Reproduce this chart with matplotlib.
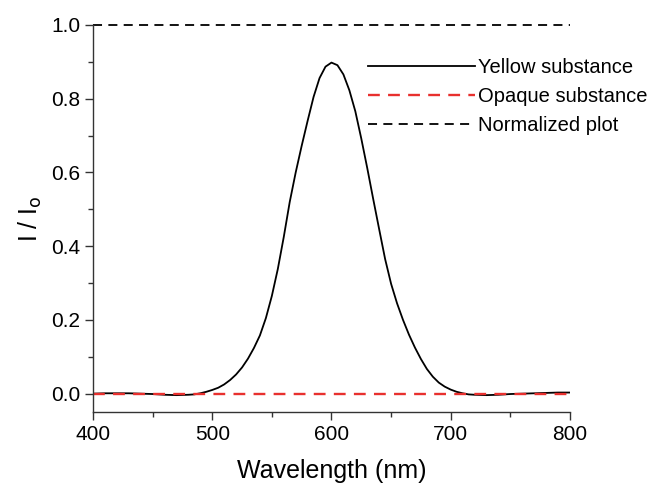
import numpy as np
import matplotlib
matplotlib.use('Agg')
import matplotlib.pyplot as plt
from matplotlib.ticker import MultipleLocator

plt.rcParams['font.family'] = ['Liberation Sans', 'DejaVu Sans']

# wavelength (nm) and transmitted intensity
wavelength = [400, 410, 420, 430, 440, 450, 460, 470, 480, 485,
              490, 495, 500, 505, 510, 515, 520, 525, 530, 535,
              540, 545, 550, 555, 560, 565, 570, 575, 580, 585,
              590, 595, 600, 605, 610, 615, 620, 625, 630, 635,
              640, 645, 650, 655, 660, 665, 670, 675, 680, 685,
              690, 695, 700, 705, 710, 715, 720, 730, 740, 750,
              760, 770, 780, 790, 800]
yellow = [0.000, 0.001, 0.001, 0.001, 0.000, -0.001, -0.003, -0.004, -0.003, -0.002,
          0.001, 0.005, 0.010, 0.016, 0.025, 0.037, 0.052, 0.071, 0.095, 0.124,
          0.158, 0.205, 0.265, 0.338, 0.425, 0.520, 0.600, 0.672, 0.740, 0.805,
          0.856, 0.887, 0.898, 0.891, 0.866, 0.823, 0.766, 0.692, 0.612, 0.528,
          0.446, 0.365, 0.298, 0.245, 0.200, 0.160, 0.125, 0.094, 0.067, 0.046,
          0.030, 0.019, 0.011, 0.005, 0.001, -0.002, -0.003, -0.004, -0.003, -0.001,
          0.000, 0.001, 0.002, 0.003, 0.003]
opaque_x = [400, 800]
opaque = [0.0, 0.0]
norm_x = [400, 800]
normalized = [1.0, 1.0]

fig = plt.figure(figsize=(6.58, 4.9), dpi=100)
ax = fig.add_axes([0.1413, 0.159, 0.7249, 0.790])

ax.plot(wavelength, yellow, color='black', lw=1.3, label='Yellow substance')
ax.plot(opaque_x, opaque, color='#e8302e', lw=1.7, dashes=(5, 3.5),
        label='Opaque substance')
ax.plot(norm_x, normalized, color='black', lw=1.3, dashes=(5, 3.5),
        label='Normalized plot', clip_on=False)

ax.set_xlim(400, 800)
ax.set_ylim(-0.05, 1.0)
ax.xaxis.set_major_locator(MultipleLocator(100))
ax.xaxis.set_minor_locator(MultipleLocator(50))
ax.yaxis.set_minor_locator(MultipleLocator(0.1))
ax.set_yticks([0.0, 0.2, 0.4, 0.6, 0.8, 1.0])
ax.set_yticklabels(['0.0', '0.2', '0.4', '0.6', '0.8', '1.0'])

for side in ['top', 'right']:
    ax.spines[side].set_visible(False)
for side in ['left', 'bottom']:
    ax.spines[side].set_color('#333333')
    ax.spines[side].set_linewidth(1.0)

ax.tick_params(which='major', direction='out', length=6, width=1.0,
               color='#333333', labelsize=15, pad=3)
ax.tick_params(which='minor', direction='out', length=3.5, width=1.0,
               color='#333333')

ax.set_xlabel('Wavelength (nm)', fontsize=18, labelpad=11)
ax.set_ylabel('I / I$_{\\rm o}$', fontsize=18, labelpad=5)

ax.legend(loc='upper left', bbox_to_anchor=(0.56, 0.935), frameon=False,
          fontsize=14.5, handlelength=5.3, handletextpad=0.15,
          labelspacing=0.5, borderaxespad=0)

plt.savefig('out.png', dpi=100)
